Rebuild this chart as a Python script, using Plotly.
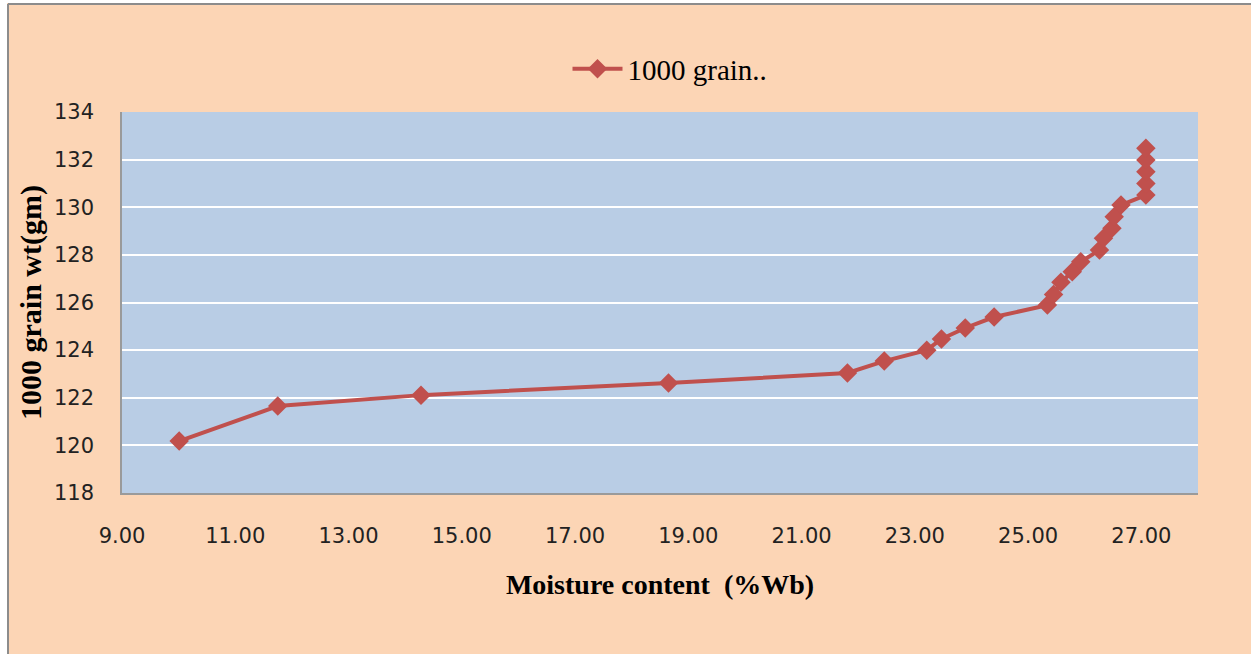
import plotly.graph_objects as go

# Data
moisture = [10.01, 11.75, 14.28, 18.65, 21.81, 22.46, 23.21, 23.47, 23.89, 24.40,
            25.34, 25.45, 25.58, 25.78, 25.93, 26.26, 26.33, 26.48, 26.52, 26.64,
            27.08, 27.08, 27.08, 27.08, 27.08]
grain_wt = [120.18, 121.65, 122.11, 122.62, 123.04, 123.54, 124.00, 124.47, 124.93, 125.39,
            125.89, 126.34, 126.85, 127.29, 127.71, 128.20, 128.70, 129.12, 129.60, 130.09,
            130.51, 131.00, 131.49, 131.98, 132.48]
x_ticks = [9, 11, 13, 15, 17, 19, 21, 23, 25, 27]
y_ticks = [118, 120, 122, 124, 126, 128, 130, 132, 134]

W, H = 1251, 654
L, R, T, B = 122, 1198, 112, 493
pw, ph = R - L, B - T

def px(x):
    return (x - L) / pw

def py(y):
    return (B - y) / ph

fig = go.Figure()
fig.add_trace(go.Scatter(
    x=moisture, y=grain_wt, mode="lines+markers", name="1000 grain..",
    line=dict(color="#C0504D", width=4),
    marker=dict(symbol="diamond", size=15, color="#C0504D"),
))

peach = "#FCD5B5"
shapes = [
    dict(type="rect", xref="paper", yref="paper", x0=px(-20), x1=px(7), y0=py(700), y1=py(-20),
         fillcolor="white", line=dict(width=0), layer="above"),
    dict(type="rect", xref="paper", yref="paper", x0=px(-20), x1=px(1300), y0=py(3), y1=py(-20),
         fillcolor="white", line=dict(width=0), layer="above"),
    dict(type="line", xref="paper", yref="paper", x0=px(8), x1=px(8), y0=py(700), y1=py(4),
         line=dict(color="#8C8C8C", width=2), layer="above"),
    dict(type="line", xref="paper", yref="paper", x0=px(8), x1=px(1300), y0=py(4), y1=py(4),
         line=dict(color="#8C8C8C", width=2), layer="above"),
]

fig.update_layout(
    width=W, height=H,
    margin=dict(l=L, r=W - R, t=T, b=H - B, pad=0),
    paper_bgcolor=peach,
    plot_bgcolor="#B9CDE5",
    showlegend=True,
    hovermode=False,
    legend=dict(x=px(670), xanchor="center", y=py(69), yanchor="middle", orientation="h",
                itemwidth=50,
                font=dict(family="Liberation Serif", size=29, color="black"),
                bgcolor="rgba(0,0,0,0)"),
    xaxis=dict(range=[9, 28], tickvals=x_ticks, tickformat=".2f", showgrid=False,
               zeroline=False, showline=True, linecolor="#9A9A9A", linewidth=1.5,
               ticks="", ticklabelstandoff=23,
               tickfont=dict(family="DejaVu Sans", size=21, color="#222222"),
               title=dict(text="<b>Moisture content  (%Wb)</b>", standoff=27,
                          font=dict(family="Liberation Serif", size=28, color="black"))),
    yaxis=dict(range=[118, 134], tickvals=y_ticks, showgrid=True, gridcolor="white",
               gridwidth=1.5, zeroline=False, showline=True, linecolor="#9A9A9A",
               linewidth=1.5, ticks="", ticklabelstandoff=22,
               tickfont=dict(family="DejaVu Sans", size=21, color="#222222"),
               title=dict(text="<b>1000 grain wt(gm)</b>", standoff=3,
                          font=dict(family="Liberation Serif", size=30, color="black"))),
    shapes=shapes,
)

fig.write_html("out.html")
